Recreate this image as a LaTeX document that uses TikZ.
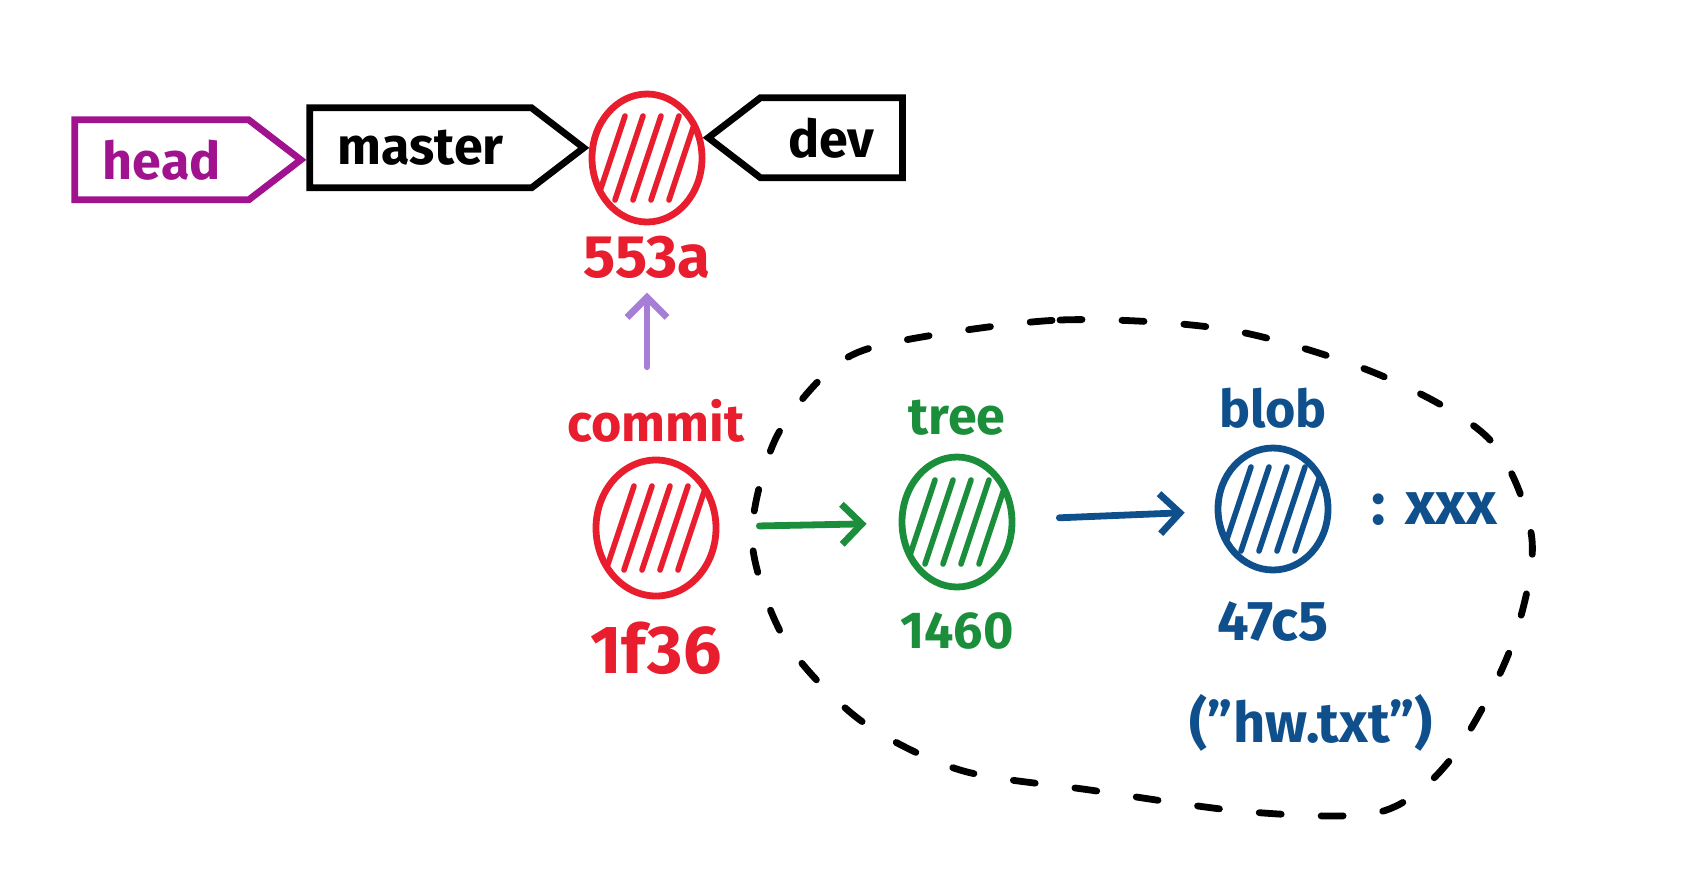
\documentclass[tikz,border=0pt]{standalone}
\usepackage{fontspec}
\setmainfont{Fira Sans}
\usetikzlibrary{positioning, shapes.geometric, shapes.symbols, arrows.meta, calc}

\definecolor{objred}{HTML}{E81D2D}
\definecolor{objgreen}{HTML}{1B8E3B}
\definecolor{objblue}{HTML}{0E4F8C}
\definecolor{headpurple}{HTML}{A1128F}
\definecolor{lavender}{HTML}{A77ED6}

\newcommand{\lblfont}{\fontsize{26}{28}\selectfont\bfseries}

\tikzset{
  obj/.style={ellipse, draw=#1, line width=3.4pt, inner sep=0pt,
    path picture={
      \foreach \d in {-25,-16,...,11}
        \draw[#1, line width=2.8pt, line cap=round]
          ($(path picture bounding box.center)+(\d pt,-21pt)$) -- ++(14pt,42pt);
    }},
  tag/.style={signal, draw=#1, text=#1, line width=3.4pt, signal pointer angle=75,
    minimum height=40pt, inner xsep=14pt, font=\lblfont},
  lbl/.style={text=#1, inner sep=2pt, font=\lblfont},
  arr/.style={-{Straight Barb[length=10pt, width=20pt]}, line width=3.4pt, line cap=round},
  grp/.style={draw=black, line width=3.4pt, line cap=round, dash pattern=on 11pt off 20pt}
}

\begin{document}
\begin{tikzpicture}[x=0.5pt, y=-0.5pt]
  \useasboundingbox (0,0) rectangle (1706,880);

  % branch pointers
  \node (c553a) [obj=objred, minimum width=55pt, minimum height=64pt] at (647,158) {};
  \node (master) [tag=black, left=0pt of c553a.170] {master};
  \node (head) [tag=headpurple, left=0pt of master.west, yshift=-6pt] {head};
  \node (dev) [tag=black, signal to=west, right=0pt of c553a.20] {dev};
  \node (l553a) [lbl=objred, below=3pt of c553a, font=\fontsize{30}{32}\selectfont\bfseries] {553a};

  % objects
  \node (commit) [obj=objred, minimum width=60pt, minimum height=68pt] at (656,528) {};
  \node (tree) [obj=objgreen, minimum width=55pt, minimum height=65pt] at (957,522) {};
  \node (blob) [obj=objblue, minimum width=55pt, minimum height=61pt] at (1273,509) {};

  \node (lcommit) [lbl=objred, above=5pt of commit] {commit};
  \node (l1f36) [lbl=objred, below=9pt of commit, font=\fontsize{34}{36}\selectfont\bfseries] {1f36};
  \node (ltree) [lbl=objgreen, above=7pt of tree] {tree};
  \node (l1460) [lbl=objgreen, below=9pt of tree] {1460};
  \node (lblob) [lbl=objblue, above=6pt of blob] {blob};
  \node (l47c5) [lbl=objblue, below=12pt of blob, font=\fontsize{28}{30}\selectfont\bfseries] {47c5};
  \node (content) [lbl=objblue, right=18pt of blob, font=\fontsize{30}{32}\selectfont\bfseries] {: xxx};
  \node (fname) [lbl=objblue, below=22pt of l47c5, xshift=19pt, font=\fontsize{28}{30}\selectfont\bfseries] {("hw.txt")};

  % links
  \draw[arr, lavender, shorten <=14pt, shorten >=5pt] (l553a.south |- lcommit.north) -- (l553a.south);
  \draw[arr, objgreen, shorten <=20pt, shorten >=16pt] (commit) -- (tree);
  \draw[arr, objblue, shorten <=22pt, shorten >=15pt] (tree) -- (blob);

  % snapshot outline
  \draw[grp] plot[smooth cycle] coordinates {
    (890,343) (1060,320) (1230,330) (1380,375) (1490,440) (1532,540)
    (1510,650) (1450,760) (1380,812) (1250,812) (1090,790) (960,770)
    (860,720) (785,640) (752,540) (775,440) (830,370)};
\end{tikzpicture}
\end{document}
